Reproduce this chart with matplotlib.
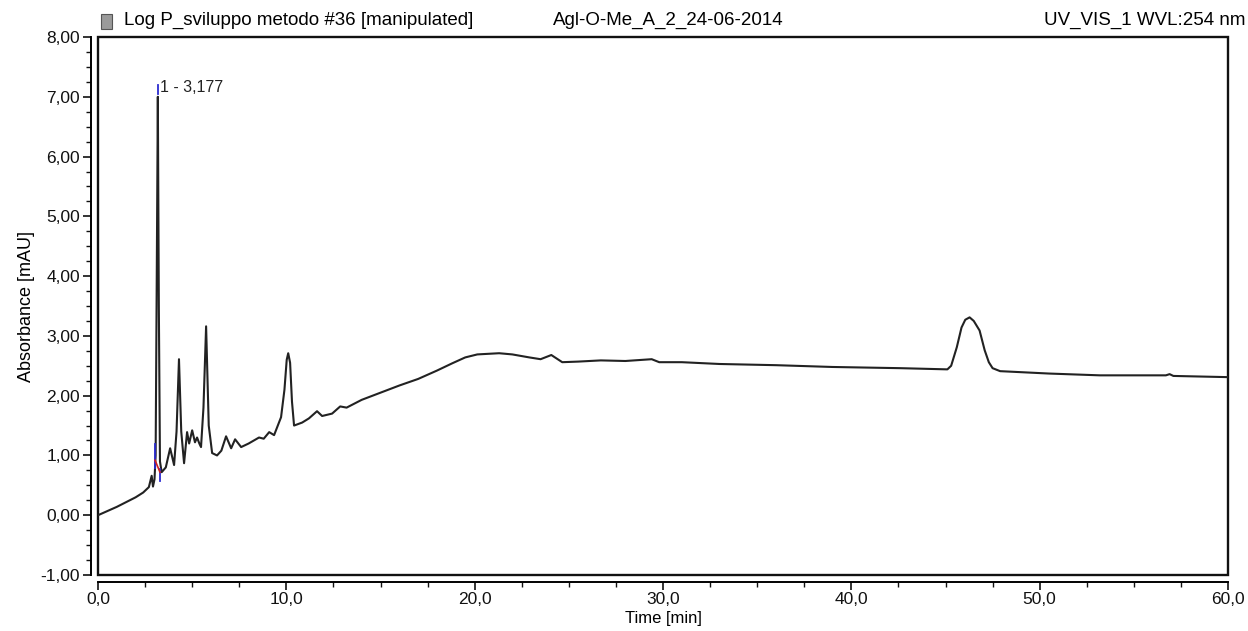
import matplotlib.pyplot as plt
import matplotlib.ticker as ticker
from matplotlib.patches import Rectangle

plt.rcParams['font.family'] = ['Liberation Sans', 'DejaVu Sans']

# chromatogram trace (time in min, absorbance in mAU)
time = [0.0, 0.5, 1.0, 1.5, 2.0, 2.4, 2.7, 2.85, 2.92, 3.0, 3.06, 3.12, 3.177, 3.23, 3.29, 3.38,
        3.6, 3.83, 4.04, 4.17, 4.30, 4.42, 4.57, 4.73, 4.84, 5.0, 5.15, 5.26, 5.38, 5.47, 5.60,
        5.74, 5.88, 6.06, 6.32, 6.55, 6.80, 7.07, 7.28, 7.60, 8.0, 8.55, 8.8, 9.09, 9.35, 9.72,
        9.9, 10.02, 10.10, 10.2, 10.3, 10.41, 10.84, 11.2, 11.63, 11.9, 12.43, 12.86, 13.2, 14.0,
        15.0, 16.0, 17.0, 18.0, 18.8, 19.5, 20.14, 21.3, 22.0, 22.9, 23.5, 24.07, 24.65, 25.5,
        26.7, 28.0, 29.4, 29.8, 31.0, 33.0, 36.0, 39.0, 42.6, 45.1, 45.3, 45.6, 45.85, 46.05,
        46.28, 46.5, 46.81, 47.08, 47.3, 47.5, 47.9, 50.5, 53.2, 56.7, 56.9, 57.1, 60.0]
absorb = [0.0, 0.07, 0.14, 0.22, 0.30, 0.38, 0.47, 0.66, 0.48, 0.60, 1.0, 4.0, 7.0, 3.5, 0.9, 0.72,
          0.80, 1.12, 0.84, 1.40, 2.61, 1.40, 0.87, 1.39, 1.20, 1.42, 1.22, 1.30, 1.20, 1.14, 1.80,
          3.16, 1.50, 1.04, 1.00, 1.08, 1.32, 1.12, 1.27, 1.14, 1.20, 1.30, 1.28, 1.39, 1.34, 1.64,
          2.10, 2.60, 2.71, 2.55, 1.90, 1.50, 1.55, 1.62, 1.74, 1.66, 1.70, 1.82, 1.80, 1.93,
          2.05, 2.17, 2.28, 2.42, 2.54, 2.64, 2.69, 2.71, 2.69, 2.64, 2.61, 2.68, 2.56, 2.57,
          2.59, 2.58, 2.61, 2.56, 2.56, 2.53, 2.51, 2.48, 2.46, 2.44, 2.50, 2.81, 3.14, 3.27,
          3.31, 3.25, 3.09, 2.76, 2.56, 2.46, 2.41, 2.37, 2.34, 2.34, 2.36, 2.33, 2.31]

# integration of peak 1
peak_name = "1 - 3,177"
peak_time = 3.177
peak_top = 7.0
start_t, start_lo, start_hi = 3.03, 0.79, 1.19
end_t, end_lo, end_hi = 3.29, 0.58, 0.78
base_t = [3.03, 3.29]
base_v = [0.92, 0.72]

fig = plt.figure(figsize=(12.48, 6.31), dpi=100)
ax = fig.add_axes([98 / 1248, 1 - 575 / 631, 1130 / 1248, 538 / 631])

ax.plot(time, absorb, color='#222222', lw=1.5)
ax.plot([start_t, start_t], [start_lo, start_hi], color='#2b2bd0', lw=1.3)
ax.plot([end_t, end_t], [end_lo, end_hi], color='#2b2bd0', lw=1.3)
ax.plot(base_t, base_v, color='#d02020', lw=1.2)
ax.plot([peak_time, peak_time], [peak_top + 0.04, peak_top + 0.2], color='#2b2bd0', lw=1.3)
ax.text(peak_time + 0.12, peak_top + 0.15, peak_name, fontsize=11.5, color='#222222', va='center')

ax.set_xlim(0, 60)
ax.set_ylim(-1, 8)

ax.spines['top'].set_visible(False)
ax.spines['right'].set_visible(False)
ax.spines['left'].set_position(('outward', 5))
ax.spines['bottom'].set_position(('outward', 5))
ax.spines['left'].set_linewidth(1.4)
ax.spines['bottom'].set_linewidth(1.4)
ax.add_patch(Rectangle((0, 0), 1, 1, transform=ax.transAxes, fill=False,
                       lw=1.7, edgecolor='#111111', clip_on=False))

ax.xaxis.set_major_locator(ticker.MultipleLocator(10))
ax.xaxis.set_minor_locator(ticker.MultipleLocator(2.5))
ax.yaxis.set_major_locator(ticker.MultipleLocator(1))
ax.yaxis.set_minor_locator(ticker.MultipleLocator(0.25))
ax.xaxis.set_major_formatter(ticker.FuncFormatter(lambda v, p: f"{v:.1f}".replace('.', ',')))
ax.yaxis.set_major_formatter(ticker.FuncFormatter(lambda v, p: f"{v:.2f}".replace('.', ',')))
ax.tick_params(which='major', length=6, width=1.2, labelsize=12.5, colors='#111111', pad=2)
ax.tick_params(axis='x', which='major', pad=1)
ax.tick_params(which='minor', length=3.5, width=1.0, colors='#111111')

ax.set_xlabel("Time [min]", fontsize=12, labelpad=3)
ax.set_ylabel("Absorbance [mAU]", fontsize=13, labelpad=4)

# header line
fig.patches.append(Rectangle((101 / 1248, 1 - 29 / 631), 11 / 1248, 15 / 631,
                             transform=fig.transFigure, facecolor='#9a9a9a', edgecolor='#555555', lw=0.8))
fig.text(124 / 1248, 1 - 20 / 631, "Log P_sviluppo metodo #36 [manipulated]", fontsize=13.5, va='center')
fig.text(553 / 1248, 1 - 20 / 631, "Agl-O-Me_A_2_24-06-2014", fontsize=13.5, va='center')
fig.text(1246 / 1248, 1 - 20 / 631, "UV_VIS_1 WVL:254 nm", fontsize=13.5, va='center', ha='right')

fig.savefig("out.png", dpi=100)
